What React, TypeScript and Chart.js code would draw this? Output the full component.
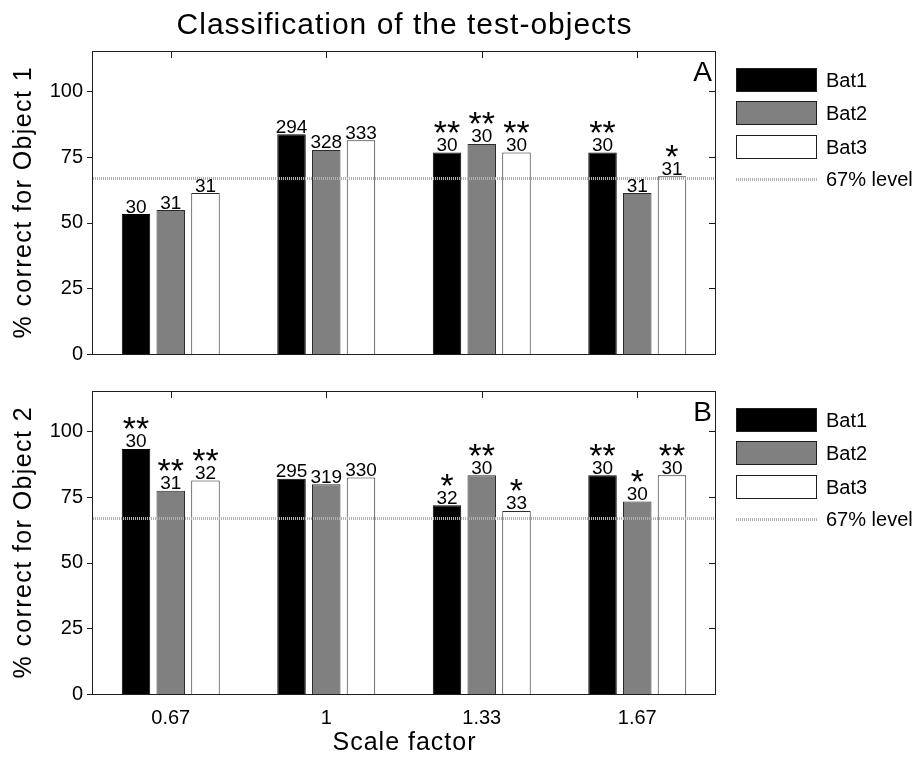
import React, { useEffect, useRef } from 'react';
import { Chart, registerables } from 'chart.js';
import type { ChartConfiguration, Plugin } from 'chart.js';

Chart.register(...registerables);

const FONT = '"Liberation Sans", Arial, Helvetica, sans-serif';
Chart.defaults.font.family = FONT;
Chart.defaults.color = '#000';

// ---- data ----
const scaleFactors = ['0.67', '1', '1.33', '1.67'];
const batNames = ['Bat1', 'Bat2', 'Bat3'];
const batFill = ['#000000', '#808080', '#ffffff'];
const batEdge = ['#000000', '#2b2b2b', '#2b2b2b'];

const yTickValues = [0, 25, 50, 75, 100];
const yMax = 115;
const chanceLevel = 67;
const chanceLabel = '67% level';

// Object 1 (% correct)
const obj1Bat1 = [53.3, 83.7, 76.7, 76.7];
const obj1Bat2 = [54.8, 77.7, 80.0, 61.3];
const obj1Bat3 = [61.3, 81.4, 76.7, 67.7];
// Object 1 trial counts
const obj1N1 = [30, 294, 30, 30];
const obj1N2 = [31, 328, 30, 31];
const obj1N3 = [31, 333, 30, 31];
// Object 1 significance marks
const obj1Sig1 = ['', '', '**', '**'];
const obj1Sig2 = ['', '', '**', ''];
const obj1Sig3 = ['', '', '**', '*'];

// Object 2 (% correct)
const obj2Bat1 = [93.3, 82.0, 71.9, 83.3];
const obj2Bat2 = [77.4, 79.9, 83.3, 73.3];
const obj2Bat3 = [81.3, 82.4, 69.7, 83.3];
// Object 2 trial counts
const obj2N1 = [30, 295, 32, 30];
const obj2N2 = [31, 319, 30, 30];
const obj2N3 = [32, 330, 33, 30];
// Object 2 significance marks
const obj2Sig1 = ['**', '', '*', '**'];
const obj2Sig2 = ['**', '', '**', '*'];
const obj2Sig3 = ['**', '', '*', '**'];

const mainTitle = 'Classification of the test-objects';
const xTitle = 'Scale factor';

interface PanelSpec {
  letter: string;
  yTitle: string;
  values: number[][];
  counts: number[][];
  sig: string[][];
  title?: string;
  showX: boolean;
}

const panelA: PanelSpec = {
  letter: 'A',
  yTitle: '% correct for Object 1',
  values: [obj1Bat1, obj1Bat2, obj1Bat3],
  counts: [obj1N1, obj1N2, obj1N3],
  sig: [obj1Sig1, obj1Sig2, obj1Sig3],
  title: mainTitle,
  showX: false,
};

const panelB: PanelSpec = {
  letter: 'B',
  yTitle: '% correct for Object 2',
  values: [obj2Bat1, obj2Bat2, obj2Bat3],
  counts: [obj2N1, obj2N2, obj2N3],
  sig: [obj2Sig1, obj2Sig2, obj2Sig3],
  showX: true,
};

const W = 919;
const H = 380;
const LEVEL_COLOR = '#b0b0b0';

function spacedText(ctx: CanvasRenderingContext2D, text: string, x: number, y: number, spacing: number) {
  const anyCtx = ctx as any;
  const prev = anyCtx.letterSpacing;
  anyCtx.letterSpacing = spacing + 'px';
  ctx.fillText(text, x + spacing / 2, y);
  anyCtx.letterSpacing = prev ?? '0px';
}

function levelStroke(ctx: CanvasRenderingContext2D, x0: number, x1: number, y: number) {
  ctx.save();
  ctx.strokeStyle = LEVEL_COLOR;
  ctx.lineWidth = 3;
  ctx.setLineDash([1, 1]);
  ctx.beginPath();
  ctx.moveTo(x0, y + 0.5);
  ctx.lineTo(x1, y + 0.5);
  ctx.stroke();
  ctx.restore();
}

function panelDecor(p: PanelSpec): Plugin<'bar'> {
  return {
    id: 'panelDecor' + p.letter,
    afterDatasetsDraw(chart) {
      const { ctx, chartArea: a } = chart;
      const ys = chart.scales.y;
      const xs = chart.scales.x;
      ctx.save();

      // chance level line
      levelStroke(ctx, a.left, a.right, Math.round(ys.getPixelForValue(chanceLevel)));

      // axes box
      ctx.strokeStyle = '#1e1e1e';
      ctx.lineWidth = 1;
      ctx.strokeRect(a.left - 0.5, a.top - 0.5, a.right - a.left + 1, a.bottom - a.top + 1);

      // tick marks
      ctx.beginPath();
      yTickValues.forEach((v) => {
        const py = Math.round(ys.getPixelForValue(v)) + 0.5;
        ctx.moveTo(a.left - 6, py);
        ctx.lineTo(a.left, py);
        ctx.moveTo(a.right - 6, py);
        ctx.lineTo(a.right, py);
      });
      scaleFactors.forEach((_, i) => {
        const px = Math.round(xs.getPixelForValue(i)) + 0.5;
        ctx.moveTo(px, a.top);
        ctx.lineTo(px, a.top + 6);
      });
      ctx.stroke();

      // counts and significance marks above bars
      ctx.fillStyle = '#000';
      ctx.textAlign = 'center';
      ctx.textBaseline = 'alphabetic';
      chart.data.datasets.forEach((_, di) => {
        const meta = chart.getDatasetMeta(di);
        meta.data.forEach((bar: any, i: number) => {
          const { x: bx, y: by } = bar.getProps(['x', 'y'], true);
          ctx.font = '19px ' + FONT;
          ctx.fillText(String(p.counts[di][i]), bx, by - 1.5);
          const s = p.sig[di][i];
          if (s) {
            ctx.font = '34px ' + FONT;
            const m = ctx.measureText(s);
            const half = (m.actualBoundingBoxAscent - m.actualBoundingBoxDescent) / 2;
            ctx.fillText(s, bx, by - 25.5 + half);
          }
        });
      });

      // panel letter
      ctx.font = '28px ' + FONT;
      ctx.textAlign = 'right';
      ctx.fillText(p.letter, a.right - 3, a.top + 28.5);
      ctx.restore();
    },
    afterDraw(chart) {
      const { ctx, chartArea: a } = chart;
      ctx.save();
      ctx.fillStyle = '#000';

      // legend
      const lx = a.right + 21;
      const bw = 81;
      const bh = 24;
      const top0 = a.top + 15.7;
      const rowOff = [0, 33.5, 67];
      ctx.font = '20px ' + FONT;
      ctx.textAlign = 'left';
      ctx.textBaseline = 'middle';
      chart.data.datasets.forEach((ds: any, di) => {
        const ty = Math.round(top0 + rowOff[di]);
        ctx.fillStyle = ds.backgroundColor;
        ctx.fillRect(lx, ty, bw, bh);
        ctx.strokeStyle = '#1e1e1e';
        ctx.lineWidth = 1;
        ctx.strokeRect(lx + 0.5, ty + 0.5, bw - 1, bh - 1);
        ctx.fillStyle = '#000';
        ctx.fillText(ds.label, lx + 90, ty + bh / 2 + 1);
      });
      const lineY = Math.round(top0 + 111);
      levelStroke(ctx, lx, lx + bw, lineY);
      ctx.fillStyle = '#000';
      ctx.fillText(chanceLabel, lx + 90, lineY + 1);

      // y axis title
      ctx.save();
      ctx.translate(24, (a.top + a.bottom) / 2);
      ctx.rotate(-Math.PI / 2);
      ctx.font = '25px ' + FONT;
      ctx.textAlign = 'center';
      ctx.textBaseline = 'middle';
      spacedText(ctx, p.yTitle, 0, 0, 1.4);
      ctx.restore();

      const cx = (a.left + a.right) / 2;
      ctx.textAlign = 'center';
      ctx.textBaseline = 'alphabetic';

      // x axis title
      if (p.showX) {
        ctx.font = '25px ' + FONT;
        spacedText(ctx, xTitle, cx, a.bottom + 56, 1);
      }

      // figure title
      if (p.title) {
        ctx.font = '30px ' + FONT;
        spacedText(ctx, p.title, cx, 33.5, 1);
      }
      ctx.restore();
    },
  };
}

function buildConfig(p: PanelSpec): ChartConfiguration<'bar'> {
  return {
    type: 'bar',
    data: {
      labels: scaleFactors,
      datasets: batNames.map((name, i) => ({
        label: name,
        data: p.values[i],
        backgroundColor: batFill[i],
        borderColor: batEdge[i],
        borderWidth: 1,
        categoryPercentage: 0.67,
        barPercentage: 0.82,
      })),
    },
    options: {
      responsive: false,
      maintainAspectRatio: false,
      devicePixelRatio: 1,
      animation: false,
      layout: {
        padding: p.showX
          ? { top: 12, right: W - 715, bottom: 0, left: 0 }
          : { top: 52, right: W - 715, bottom: 26, left: 0 },
      },
      plugins: {
        legend: { display: false },
        title: { display: false },
        tooltip: { enabled: false },
      },
      scales: {
        x: {
          display: p.showX,
          grid: { display: false, drawTicks: false },
          border: { display: false },
          ticks: { font: { size: 20 }, color: '#000', padding: 12, maxRotation: 0, autoSkip: false },
          afterFit: (s: any) => {
            s.height = p.showX ? 66 : 0;
            s.paddingLeft = 0;
            s.paddingRight = 0;
          },
        },
        y: {
          min: 0,
          max: yMax,
          grid: { display: false, drawTicks: false },
          border: { display: false },
          ticks: { font: { size: 20 }, color: '#000', padding: 10 },
          afterBuildTicks: (s: any) => {
            s.ticks = yTickValues.map((v) => ({ value: v }));
          },
          afterFit: (s: any) => {
            s.width = 93;
            s.paddingTop = 0;
            s.paddingBottom = 0;
          },
        },
      },
    },
    plugins: [panelDecor(p)],
  };
}

function Panel({ spec, top }: { spec: PanelSpec; top: number }) {
  const ref = useRef<HTMLCanvasElement>(null);
  useEffect(() => {
    if (!ref.current) return;
    const chart = new Chart(ref.current, buildConfig(spec));
    return () => chart.destroy();
  }, [spec]);
  return (
    <canvas
      ref={ref}
      width={W}
      height={H}
      style={{ position: 'absolute', left: 0, top, width: W, height: H, display: 'block' }}
    />
  );
}

export default function App() {
  return (
    <div style={{ position: 'absolute', left: 0, top: 0, width: W, height: 760, background: '#fff', overflow: 'hidden' }}>
      <Panel spec={panelA} top={0} />
      <Panel spec={panelB} top={380} />
    </div>
  );
}
